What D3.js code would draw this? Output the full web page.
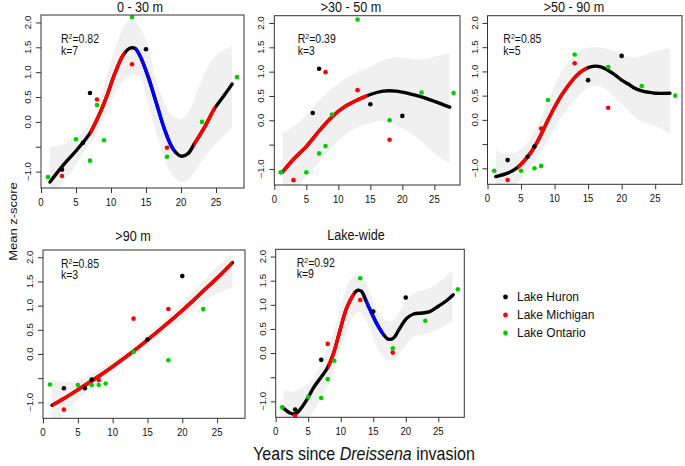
<!DOCTYPE html>
<html><head><meta charset="utf-8">
<script src="https://cdn.jsdelivr.net/npm/d3@7"></script>
<style>body{margin:0;background:#fff}svg text{font-family:"Liberation Sans",Arial,Helvetica,sans-serif;fill:#111}</style>
</head><body><svg id="c" width="685" height="466"></svg>
<script>
// ---------- data ----------
const xTicks = [0, 5, 10, 15, 20, 25];
const yTicks = [-1, -0.5, 0, 0.5, 1, 1.5, 2];
const yTickLabels = ["\u22121.0", "", "0.0", "0.5", "1.0", "1.5", "2.0"];
const titles = ["0 - 30 m", ">30 - 50 m", ">50 - 90 m", ">90 m", "Lake-wide"];
const r2Values = ["0.82", "0.39", "0.85", "0.85", "0.92"];
const kValues = ["7", "3", "5", "3", "9"];
const lakes = ["Lake Huron", "Lake Michigan", "Lake Ontario"];

// Panel 1: 0 - 30 m
const p1Huron = [[3,-0.96],[6,-0.42],[7,0.58],[15,1.46]];
const p1Michigan = [[3,-1.09],[8,0.45],[13,1.16],[18,-0.52]];
const p1Ontario = [[1,-1.11],[5,-0.35],[7,-0.78],[8,0.34],[9,-0.37],[13,2.11],[18,-0.70],[23,0.0],[28,0.9]];
const p1Fit = [[1.28,-1.21],[3.18,-0.87],[5.08,-0.57],[6.98,-0.23],[8.17,0.1],[9.35,0.5],[10.54,0.97],[11.73,1.34],[12.68,1.48],[13.4,1.48],[14.1,1.34],[15.3,0.91],[16.5,0.37],[17.7,-0.17],[18.85,-0.54],[20.0,-0.69],[20.99,-0.64],[21.9,-0.44],[23.4,-0.1],[24.8,0.27],[26.2,0.54],[27.3,0.76]];
const p1Band = [[1.28,-1.7,-0.5],[2.7,-1.3,-0.47],[4.6,-0.95,-0.34],[6,-0.62,-0.2],[7.5,-0.34,0.08],[8.4,-0.1,0.45],[9.35,0.17,0.9],[10.3,0.47,1.35],[11.2,0.74,1.72],[12.0,0.88,1.95],[12.8,0.94,2.08],[14.1,0.9,1.91],[15.05,0.5,1.62],[16.2,-0.1,1.0],[17.4,-0.64,0.45],[18.6,-1.04,0.15],[20,-1.21,0.05],[21.2,-1.14,0.23],[22.4,-0.91,0.65],[24.1,-0.57,1.17],[25.7,-0.34,1.41],[27.3,-0.1,1.51]];
const p1Trend = [[6.98,11.97,"inc"],[13.4,19.1,"dec"],[21.8,24.9,"inc"]];

// Panel 2: >30 - 50 m
const p2Huron = [[6,0.15],[7,1.06],[15,0.33],[20,0.09]];
const p2Michigan = [[3,-1.23],[8,0.99],[13,0.62],[18,-0.40]];
const p2Ontario = [[1,-1.07],[5,-1.07],[7,-0.68],[8,-0.53],[9,0.12],[13,2.07],[18,0.0],[23,0.57],[28,0.56]];
const p2Fit = [[1.3,-1.06],[3,-0.8],[5,-0.54],[7,-0.22],[9,0.07],[11,0.28],[13,0.42],[15,0.53],[17,0.6],[19,0.6],[21,0.55],[23,0.48],[25,0.39],[27.4,0.27]];
const p2Band = [[1.3,-1.85,-0.26],[3,-1.5,-0.12],[5,-1.16,0.1],[7,-0.85,0.41],[9,-0.55,0.65],[11,-0.3,0.85],[13,-0.15,1.0],[15,-0.05,1.1],[17,-0.02,1.23],[19,-0.1,1.3],[21,-0.24,1.27],[23,-0.44,1.25],[25,-0.68,1.31],[27.4,-0.88,1.38]];
const p2Trend = [[1.3,14.5,"inc"]];

// Panel 3: >50 - 90 m
const p3Huron = [[3,-0.83],[6,-0.76],[7,-0.55],[15,0.82],[20,1.32]];
const p3Michigan = [[3,-1.24],[8,-0.18],[13,1.17],[18,0.25]];
const p3Ontario = [[1,-1.05],[5,-1.05],[7,-1.0],[8,-0.95],[9,0.41],[13,1.35],[18,1.09],[23,0.70],[28,0.50]];
const p3Fit = [[1.24,-1.17],[3,-1.1],[4.5,-0.98],[6,-0.76],[7,-0.56],[8,-0.3],[9,-0.01],[10,0.26],[11,0.5],[12,0.7],[13,0.87],[14,1.0],[15,1.08],[16,1.11],[17,1.09],[18,1.02],[19,0.93],[20,0.82],[21,0.74],[22,0.65],[23,0.6],[24,0.57],[25,0.55],[27.2,0.55]];
const p3Band = [[1.24,-1.71,-0.63],[3,-1.5,-0.71],[5,-1.22,-0.6],[7,-0.87,-0.25],[9,-0.42,0.4],[11,0.05,0.97],[13,0.4,1.35],[15,0.67,1.49],[17,0.68,1.49],[19,0.46,1.42],[21,0.19,1.3],[23,-0.05,1.32],[25,-0.12,1.42],[27.2,-0.29,1.49]];
const p3Trend = [[4.5,14.8,"inc"]];

// Panel 4: >90 m
const p4Huron = [[3,-0.71],[6,-0.71],[7,-0.53],[15,0.30],[20,1.61]];
const p4Michigan = [[3,-1.15],[8,-0.54],[13,0.73],[18,0.93]];
const p4Ontario = [[1,-0.63],[5,-0.64],[7,-0.64],[8,-0.64],[9,-0.61],[13,0.04],[18,-0.13],[23,0.93]];
const p4Fit = [[1.3,-1.06],[3,-0.92],[5,-0.74],[8,-0.46],[10,-0.26],[13,0.06],[15,0.29],[18,0.65],[20,0.9],[23,1.3],[25,1.57],[27.2,1.89]];
const p4Band = [[1.3,-1.56,-0.54],[3,-1.25,-0.59],[5,-0.94,-0.54],[8,-0.58,-0.34],[10,-0.36,-0.16],[13,-0.03,0.15],[15,0.19,0.39],[18,0.52,0.78],[20,0.72,1.05],[23,1.08,1.5],[25,1.25,1.8],[27.2,1.37,2.08]];
const p4Trend = [[1.3,27.2,"inc"]];

// Panel 5: Lake-wide
const p5Huron = [[3,-1.17],[7,-0.14],[15,0.86],[20,1.15]];
const p5Michigan = [[3,-1.30],[8,0.19],[13,1.10],[18,0.01]];
const p5Ontario = [[1,-1.12],[5,-0.91],[7,-0.93],[8,-0.54],[9,-0.16],[13,1.55],[18,0.10],[23,0.67],[28,1.32]];
const p5Fit = [[1.18,-1.14],[2.2,-1.24],[3.0,-1.26],[3.74,-1.17],[4.77,-0.97],[5.8,-0.72],[7.08,-0.48],[7.95,-0.31],[8.9,0.0],[9.9,0.48],[10.9,0.93],[11.95,1.21],[12.56,1.3],[13.2,1.28],[13.7,1.14],[14.5,0.9],[15.5,0.62],[16.5,0.4],[17.3,0.29],[18.1,0.31],[19.1,0.52],[20.15,0.72],[21.2,0.81],[22.5,0.83],[23.7,0.86],[25.0,0.97],[26.3,1.09],[27.3,1.21]];
const p5Band = [[1.2,-1.6,-0.75],[2.7,-1.6,-0.8],[4.3,-1.45,-0.69],[5.8,-1.2,-0.52],[7.3,-0.85,-0.1],[8.6,-0.5,0.3],[9.9,0.05,0.9],[11.2,0.55,1.45],[12.2,0.8,1.63],[13.0,0.85,1.65],[13.7,0.72,1.52],[14.8,0.4,1.15],[16.0,0.0,0.8],[17.3,-0.15,0.66],[18.4,-0.12,0.72],[19.6,0.1,1.0],[21.2,0.34,1.24],[22.7,0.38,1.31],[24.3,0.45,1.38],[25.8,0.55,1.55],[27.2,0.66,1.69]];
const p5Trend = [[8.0,12.1,"inc"],[13.8,16.5,"dec"]];

// ---------- layout / style ----------
const xDomain = [0, 29], yDomain = [-1.33, 2.15];
const lakeColor = ["#000000", "#ff0000", "#00cd00"];
const trendColor = {inc: "#ff0000", dec: "#0000ff"};
const TS = 1.13; // vertical stretch of the original raster text
const boxes = [
  {l:41, r:244, t:15, b:188, tx:140, ty:12, rx:61, ry:43},
  {l:274.3, r:460, t:15.7, b:185, tx:351, ty:12, rx:297.7, ry:43},
  {l:487.5, r:682, t:15.7, b:184.3, tx:574, ty:12, rx:503.3, ry:43},
  {l:43, r:245, t:250, b:418.3, tx:133, ty:241, rx:61, ry:267.7},
  {l:275.7, r:464.3, t:249.3, b:417.3, tx:356, ty:240, rx:296.7, ry:266.7}
];
const panelData = [
  [p1Huron, p1Michigan, p1Ontario, p1Fit, p1Band, p1Trend],
  [p2Huron, p2Michigan, p2Ontario, p2Fit, p2Band, p2Trend],
  [p3Huron, p3Michigan, p3Ontario, p3Fit, p3Band, p3Trend],
  [p4Huron, p4Michigan, p4Ontario, p4Fit, p4Band, p4Trend],
  [p5Huron, p5Michigan, p5Ontario, p5Fit, p5Band, p5Trend]
];

const svg = d3.select("#c");
const defs = svg.append("defs");

function text(g, x, y, str, size, anchor, rotate) {
  const tr = rotate ? `translate(${x},${y}) rotate(-90) scale(${TS},1)` : `translate(${x},${y}) scale(1,${TS})`;
  return g.append("text").attr("transform", tr).attr("font-size", size)
    .attr("text-anchor", anchor || "start").text(str);
}

panelData.forEach((pd, i) => {
  const bx = boxes[i];
  const [huron, michigan, ontario, fit, band, trend] = pd;
  const x = d3.scaleLinear().domain(xDomain).range([bx.l, bx.r]);
  const y = d3.scaleLinear().domain(yDomain).range([bx.b, bx.t]);
  const g = svg.append("g");
  const cid = "clip" + i;
  defs.append("clipPath").attr("id", cid).append("rect")
    .attr("x", bx.l).attr("y", bx.t).attr("width", bx.r - bx.l).attr("height", bx.b - bx.t);
  const plot = g.append("g").attr("clip-path", `url(#${cid})`);

  // confidence band
  const area = d3.area().x(d => x(d[0])).y0(d => y(d[1])).y1(d => y(d[2])).curve(d3.curveCatmullRom.alpha(0.5));
  plot.append("path").datum(band).attr("d", area).attr("fill", "#f0f0f0");

  // fitted curve, black, with significant segments overlaid
  const line = d3.line().x(d => x(d[0])).y(d => y(d[1])).curve(d3.curveCatmullRom.alpha(0.5));
  plot.append("path").datum(fit).attr("d", line).attr("fill", "none")
    .attr("stroke", "#000").attr("stroke-width", 3.4).attr("stroke-linecap", "round");
  trend.forEach((s, j) => {
    const sid = `seg${i}_${j}`;
    defs.append("clipPath").attr("id", sid).append("rect")
      .attr("x", x(s[0])).attr("y", bx.t - 5).attr("width", x(s[1]) - x(s[0])).attr("height", bx.b - bx.t + 10);
    plot.append("g").attr("clip-path", `url(#${sid})`).append("path").datum(fit).attr("d", line)
      .attr("fill", "none").attr("stroke", trendColor[s[2]]).attr("stroke-width", 3.4)
      .attr("stroke-linecap", "round");
  });

  // points
  [huron, michigan, ontario].forEach((pts, k) => {
    plot.selectAll(null).data(pts).enter().append("circle")
      .attr("cx", d => x(d[0])).attr("cy", d => y(d[1])).attr("r", 2.3)
      .attr("fill", lakeColor[k]);
  });

  // box
  g.append("rect").attr("x", bx.l).attr("y", bx.t).attr("width", bx.r - bx.l).attr("height", bx.b - bx.t)
    .attr("fill", "none").attr("stroke", "#333").attr("stroke-width", 1);

  // x axis
  const xa = g.append("g").attr("transform", `translate(0,${bx.b})`)
    .call(d3.axisBottom(x).tickValues(xTicks).tickSize(5).tickPadding(3).tickFormat(d3.format("d")));
  xa.select(".domain").remove();
  xa.selectAll("line").attr("stroke", "#333");
  xa.selectAll("text").remove();
  xTicks.forEach(t => text(g, x(t), bx.b + 17.5, String(t), 9.6, "middle"));

  // y axis
  const ya = g.append("g").attr("transform", `translate(${bx.l},0)`)
    .call(d3.axisLeft(y).tickValues(yTicks).tickSize(5));
  ya.select(".domain").remove();
  ya.selectAll("line").attr("stroke", "#333");
  ya.selectAll("text").remove();
  yTicks.forEach((t, k) => { if (yTickLabels[k]) text(g, bx.l - 10, y(t), yTickLabels[k], 8.6, "middle", true); });

  // title
  text(g, bx.tx, bx.ty, titles[i], 12.6, "middle");

  // R2 and k
  const r2 = g.append("text").attr("transform", `translate(${bx.rx},${bx.ry}) scale(1,${TS})`).attr("font-size", 10.5);
  r2.append("tspan").text("R");
  r2.append("tspan").attr("font-size", 7).attr("dy", -3.5).text("2");
  r2.append("tspan").attr("dy", 3.5).text("=" + r2Values[i]);
  text(g, bx.rx, bx.ry + 11.5, "k=" + kValues[i], 10.5, "start");
});

// axis titles
text(svg, 17, 221.5, "Mean z-score", 11.5, "middle", true);
const xt = svg.append("text").attr("transform", `translate(364,459.5) scale(1,${TS})`)
  .attr("font-size", 16).attr("text-anchor", "middle");
xt.append("tspan").text("Years since ");
xt.append("tspan").attr("font-style", "italic").text("Dreissena");
xt.append("tspan").text(" invasion");

// legend
const legY = [297, 315, 333];
lakes.forEach((name, k) => {
  svg.append("circle").attr("cx", 505.5).attr("cy", legY[k]).attr("r", 2.4).attr("fill", lakeColor[k]);
  text(svg, 517, legY[k] + 4.3, name, 12, "start");
});
</script></body></html>
